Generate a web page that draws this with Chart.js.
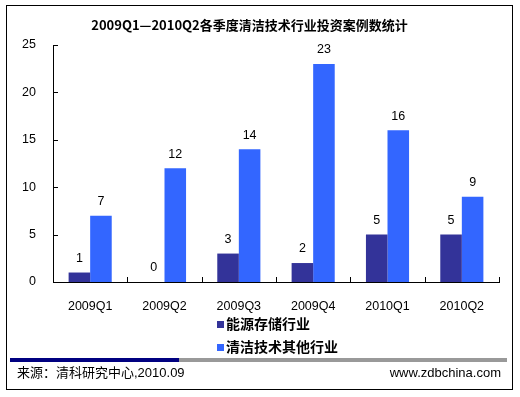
<!DOCTYPE html>
<html>
<head>
<meta charset="utf-8">
<script src="https://cdn.jsdelivr.net/npm/chart.js@4/dist/chart.umd.min.js"></script>
<style>
  html, body { margin: 0; padding: 0; background: #fff; }
  #wrap { position: relative; width: 520px; height: 397px; overflow: hidden; }
  #c { position: absolute; left: 0; top: 0; }
  #frame { position: absolute; left: 6px; top: 5px; width: 505px; height: 383px; border: 1px solid #000; box-sizing: content-box; }
  .leg { position: absolute; left: 217px; font: bold 14px "Noto Sans CJK SC", sans-serif; color: #000; line-height: 18px; height: 18px; white-space: nowrap; }
  .leg span.sw { display: inline-block; width: 7px; height: 7px; margin-right: 2px; vertical-align: 1px; }
  #barDark { position: absolute; left: 10px; top: 358px; width: 169px; height: 4px; background: #000080; }
  #barGray { position: absolute; left: 179px; top: 358px; width: 328px; height: 4px; background: #999999; }
  .foot { position: absolute; top: 365px; font: 13px "Liberation Sans", Arial, "Noto Sans CJK SC", sans-serif; color: #000; line-height: 16px; white-space: nowrap; }
</style>
</head>
<body>
<div id="wrap">
  <canvas id="c" width="520" height="397"></canvas>
  <div id="frame"></div>
  <div id="legend"></div>
  <div id="barDark"></div>
  <div id="barGray"></div>
  <div class="foot" id="src" style="left:17px;"></div>
  <div class="foot" id="site" style="right:19px;"></div>
</div>
<script>
const titleText = "2009Q1\u20142010Q2各季度清洁技术行业投资案例数统计";
const categories = ["2009Q1", "2009Q2", "2009Q3", "2009Q4", "2010Q1", "2010Q2"];
const seriesNames = ["能源存储行业", "清洁技术其他行业"];
const energyStorage = [1, 0, 3, 2, 5, 5];
const otherCleantech = [7, 12, 14, 23, 16, 9];
const yTicks = [0, 5, 10, 15, 20, 25];
const seriesColors = ["#333399", "#3366FF"];
const sourceText = "来源：清科研究中心,2010.09";
const siteText = "www.zdbchina.com";

document.getElementById("src").textContent = sourceText;
document.getElementById("site").textContent = siteText;

const legendEl = document.getElementById("legend");
seriesNames.forEach((name, i) => {
  const d = document.createElement("div");
  d.className = "leg";
  d.style.top = (314 + i * 23) + "px";
  const sw = document.createElement("span");
  sw.className = "sw";
  sw.style.background = seriesColors[i];
  d.appendChild(sw);
  d.appendChild(document.createTextNode(name));
  legendEl.appendChild(d);
});

const valueLabels = {
  id: "valueLabels",
  afterDatasetsDraw(chart) {
    const ctx = chart.ctx;
    ctx.save();
    ctx.font = '12.5px "Liberation Sans", Arial, sans-serif';
    ctx.fillStyle = "#000";
    ctx.textAlign = "center";
    ctx.textBaseline = "middle";
    chart.data.datasets.forEach((ds, di) => {
      const meta = chart.getDatasetMeta(di);
      meta.data.forEach((el, i) => {
        ctx.fillText(String(ds.data[i]), el.x, el.y - 14);
      });
    });
    ctx.restore();
  }
};

const innerTicks = {
  id: "innerTicks",
  afterDraw(chart) {
    const ctx = chart.ctx;
    const xs = chart.scales.x, ys = chart.scales.y;
    const area = chart.chartArea;
    ctx.save();
    ctx.strokeStyle = "#000";
    ctx.lineWidth = 1;
    ctx.beginPath();
    yTicks.forEach(v => {
      const y = Math.round(ys.getPixelForValue(v)) + 0.5;
      ctx.moveTo(area.left, y);
      ctx.lineTo(area.left + 5, y);
    });
    const n = categories.length;
    for (let i = 1; i <= n; i++) {
      const x = Math.round(area.left + (area.right - area.left) * i / n) + 0.5;
      ctx.moveTo(x, area.bottom);
      ctx.lineTo(x, area.bottom - 5);
    }
    ctx.stroke();
    ctx.restore();
  }
};

new Chart(document.getElementById("c"), {
  type: "bar",
  data: {
    labels: categories,
    datasets: [
      { label: seriesNames[0], data: energyStorage, backgroundColor: seriesColors[0], borderWidth: 0 },
      { label: seriesNames[1], data: otherCleantech, backgroundColor: seriesColors[1], borderWidth: 0 }
    ]
  },
  options: {
    responsive: false,
    animation: false,
    devicePixelRatio: 1,
    layout: { padding: { left: 0, right: 21, top: 0, bottom: 82 } },
    datasets: { bar: { categoryPercentage: 0.58, barPercentage: 1.0 } },
    plugins: {
      legend: { display: false },
      tooltip: { enabled: false },
      title: {
        display: true,
        text: titleText,
        color: "#000",
        font: { family: '"Noto Sans CJK SC", sans-serif', size: 13, weight: "bold", lineHeight: 1.2 },
        padding: { top: 17, bottom: 12.4 }
      }
    },
    scales: {
      x: {
        grid: { display: false, drawTicks: false },
        border: { display: true, color: "#000", width: 1 },
        ticks: { color: "#000", padding: 17, maxRotation: 0, font: { family: '"Liberation Sans", Arial, sans-serif', size: 12.5 } },
        afterFit(scale) { scale.height = 33; }
      },
      y: {
        min: 0, max: 25,
        grid: { display: false, drawTicks: false },
        border: { display: true, color: "#000", width: 1 },
        ticks: { color: "#000", padding: 17, stepSize: 5, font: { family: '"Liberation Sans", Arial, sans-serif', size: 12.5 } },
        afterFit(scale) { scale.width = 53; }
      }
    }
  },
  plugins: [valueLabels, innerTicks]
});
</script>
</body>
</html>
